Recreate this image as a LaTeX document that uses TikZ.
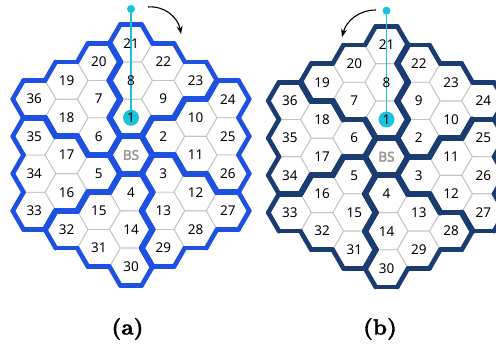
\documentclass[tikz,border=0pt]{standalone}
\usepackage{fontspec}
\newfontfamily\numfont{Noto Sans}
\newfontfamily\bsfont[FakeBold=2]{Noto Sans}
\newfontfamily\capfont[FakeBold=1.5]{lmroman10-bold.otf}
\usetikzlibrary{arrows.meta}
\definecolor{blueL}{RGB}{30,80,225}
\definecolor{blueR}{RGB}{27,60,112}
\definecolor{thinc}{RGB}{195,195,195}
\definecolor{cyc}{RGB}{25,195,220}
\definecolor{bsgray}{RGB}{150,150,150}
\def\celllist{BS/0/0/0/0, 1/0/-2/1/1, 2/1/-1/2/2, 3/1/1/3/3, 4/0/2/4/4, 5/-1/1/5/5, 6/-1/-1/6/6, 7/-1/-3/6/1, 8/0/-4/1/1, 9/1/-3/1/2, 10/2/-2/2/2, 11/2/0/2/3, 12/2/2/3/3, 13/1/3/3/4, 14/0/4/4/4, 15/-1/3/4/5, 16/-2/2/5/5, 17/-2/0/5/6, 18/-2/-2/6/6, 19/-2/-4/6/1, 20/-1/-5/6/1, 21/0/-6/1/1, 22/1/-5/1/2, 23/2/-4/1/2, 24/3/-3/2/2, 25/3/-1/2/3, 26/3/1/2/3, 27/3/3/3/3, 28/2/4/3/4, 29/1/5/3/4, 30/0/6/4/4, 31/-1/5/4/5, 32/-2/4/4/5, 33/-3/3/5/5, 34/-3/1/5/6, 35/-3/-1/5/6, 36/-3/-3/6/6}
\def\hexR{21.5}
\def\colW{32.25}
\def\halfH{18.62}
\tikzset{
  thinedge/.style={draw=thinc, line width=0.9pt, fill=white},
  outedge/.style={line width=4.6pt, line cap=round, line join=round},
  inedge/.style={line width=5.8pt, line cap=round, line join=round},
  lab/.style={font=\numfont\fontsize{13.5}{16}\selectfont, text=black, inner sep=0pt},
  bslab/.style={font=\bsfont\fontsize{13.5}{16}\selectfont, text=bsgray, inner sep=0pt},
  cyline/.style={draw=cyc, line width=1.8pt},
  rotarrow/.style={draw=black, line width=1.1pt, -{Stealth[length=8pt,width=6pt]}},
  captext/.style={font=\capfont\fontsize{22}{26}\selectfont, inner sep=0pt}
}
\newcommand\drawhexgrid[4]{%
  \foreach \l/\q/\h/\a/\b in \celllist {
    \coordinate (#1c\l) at ({#2+\colW*\q},{#3-\halfH*\h});
    \path[thinedge] (#1c\l) +(0:\hexR) -- +(60:\hexR) -- +(120:\hexR) -- +(180:\hexR) -- +(240:\hexR) -- +(300:\hexR) -- cycle;
  }
  \foreach \l/\q/\h/\a/\b in \celllist {
    \edef\own{\csname c#1@\q @\h\endcsname}
    \foreach \dq/\dh/\aa/\ab in {0/-2/60/120, 1/-1/0/60, 1/1/-60/0, 0/2/240/300, -1/1/180/240, -1/-1/120/180} {
      \pgfmathtruncatemacro\nq{\q+\dq}
      \pgfmathtruncatemacro\nh{\h+\dh}
      \ifcsname c#1@\nq @\nh\endcsname
        \edef\nc{\csname c#1@\nq @\nh\endcsname}
        \ifnum\nc=\own\relax\else
          \draw[inedge, draw=#4] (#1c\l) +(\aa:\hexR) -- +(\ab:\hexR);
        \fi
      \else
        \draw[outedge, draw=#4] (#1c\l) +(\aa:\hexR) -- +(\ab:\hexR);
      \fi
    }
  }
  \coordinate (#1top) at ({#2},{#3+146});
  \draw[cyline] (#1top) -- (#1c1);
  \fill[cyc] (#1top) circle (4);
  \fill[cyc] (#1c1) circle (8);
  \foreach \l in {1,...,36} {
    \node[lab] (#1n\l) at (#1c\l) {\l};
  }
  \node[bslab] (#1nBS) at (#1cBS) {BS};
}
\begin{document}
\begin{tikzpicture}[x=1pt,y=1pt]
\useasboundingbox (0,0) rectangle (496,345);
\clip (0,0) rectangle (496,345);
\foreach \l/\q/\h/\a/\b in \celllist {
  \expandafter\xdef\csname cL@\q @\h\endcsname{\a}
  \expandafter\xdef\csname cR@\q @\h\endcsname{\b}
}
\drawhexgrid{L}{131}{190}{blueL}
\drawhexgrid{R}{386.5}{188.3}{blueR}
\coordinate (Las) at (148,338);
\coordinate (Lat) at (181,311);
\draw[rotarrow] (Las) to[out=5, in=100] (Lat);
\coordinate (Ras) at (376,335);
\coordinate (Rat) at (342,308);
\draw[rotarrow] (Ras) to[out=180, in=75] (Rat);
\node[captext] (capa) at (127.5,16) {(a)};
\node[captext] (capb) at (380,16) {(b)};
\end{tikzpicture}
\end{document}
